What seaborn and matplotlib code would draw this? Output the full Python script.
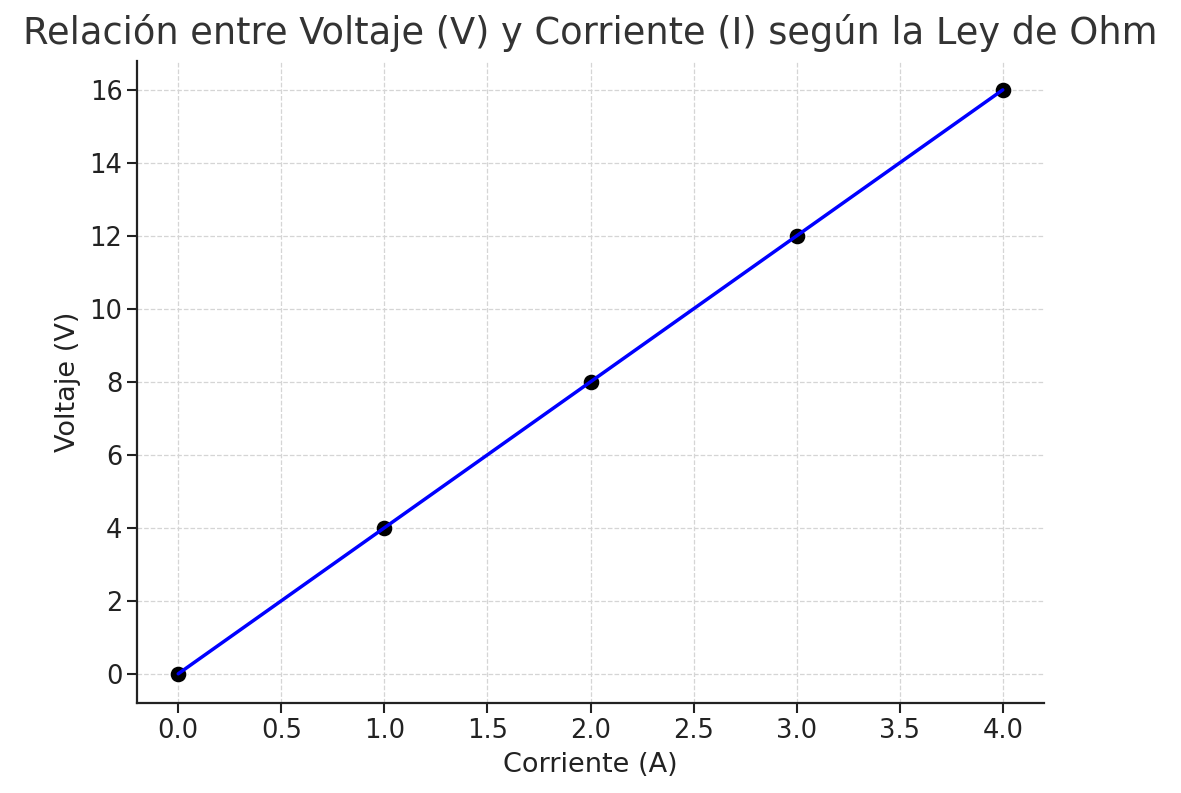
import numpy as np
import pandas as pd
import matplotlib
matplotlib.use("Agg")
import matplotlib.pyplot as plt
import seaborn as sns

corriente = [0, 1, 2, 3, 4]
voltaje = [0, 4, 8, 12, 16]

data = pd.DataFrame({"Corriente (A)": corriente, "Voltaje (V)": voltaje})

sns.set_style("ticks")
plt.rcParams['font.family'] = ['DejaVu Sans']

fig = plt.figure(figsize=(11.81, 7.93), dpi=100)
ax = fig.add_axes([0.116, 0.1135, 0.768, 0.81])

sns.scatterplot(data=data, x="Corriente (A)", y="Voltaje (V)", color="black", s=150, ax=ax, zorder=2)
sns.lineplot(data=data, x="Corriente (A)", y="Voltaje (V)", color="blue", linewidth=2.5, ax=ax, zorder=3)

ax.grid(True, linestyle="--", color="#d5d5d5", linewidth=0.9)
ax.set_axisbelow(True)
sns.despine(ax=ax)
for s in ["left", "bottom"]:
    ax.spines[s].set_linewidth(1.6)
    ax.spines[s].set_color("#222222")
ax.tick_params(labelsize=18.5, width=1.5, length=7, colors="#222222")

ax.set_xticks(np.arange(0, 4.01, 0.5))
ax.set_yticks(np.arange(0, 17, 2))
ax.set_xlim(-0.2, 4.2)
ax.set_ylim(-0.8, 16.8)

ax.set_title("Relación entre Voltaje (V) y Corriente (I) según la Ley de Ohm", fontsize=26.5, color="#333333", pad=12)
ax.set_xlabel("Corriente (A)", fontsize=19.5, color="#222222", labelpad=6)
ax.set_ylabel("Voltaje (V)", fontsize=19.5, color="#222222", labelpad=6)

plt.savefig("out.png", dpi=100)
